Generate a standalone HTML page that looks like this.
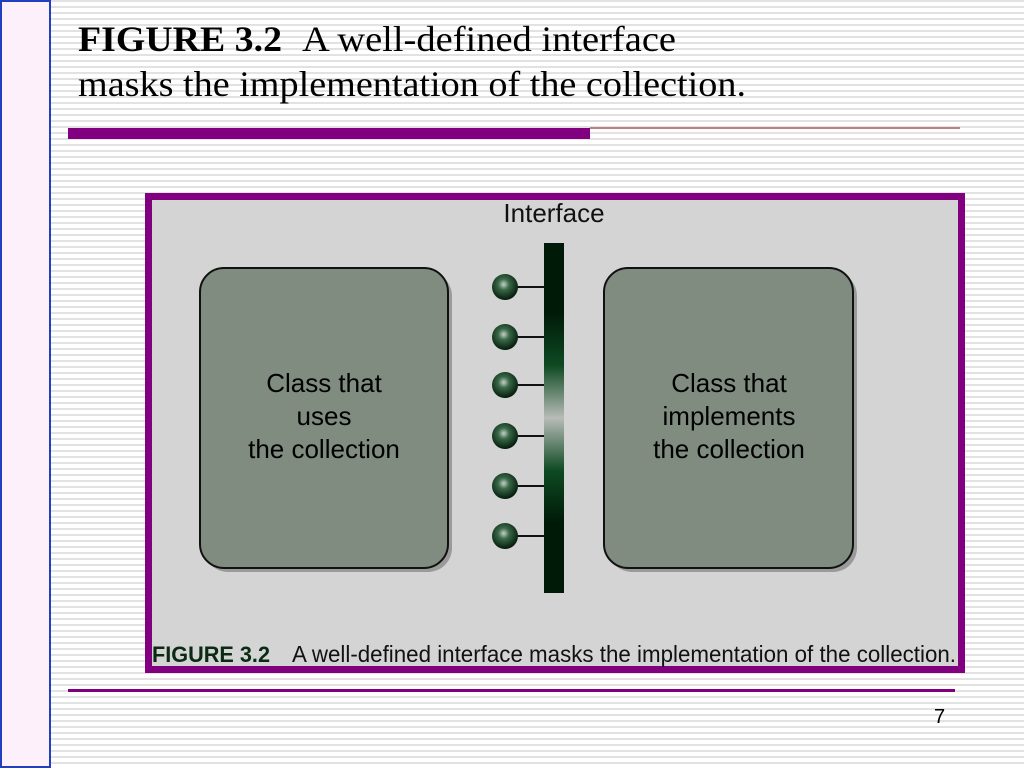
<!DOCTYPE html>
<html><head><style>
html,body{margin:0;padding:0;width:1024px;height:768px;overflow:hidden;background:#fff}
</style></head><body>
<svg width="1024" height="768" viewBox="0 0 1024 768" xmlns="http://www.w3.org/2000/svg">
<defs>
<pattern id="st" width="8" height="6" patternUnits="userSpaceOnUse">
<rect width="8" height="6" fill="#fff"/><rect y="0" width="8" height="2" fill="#e2e2e2"/>
</pattern>
<radialGradient id="ball" cx="45%" cy="40%" r="60%">
<stop offset="0" stop-color="#c8d0c8"/><stop offset="0.35" stop-color="#3a6a48"/><stop offset="1" stop-color="#041a0c"/>
</radialGradient>
<linearGradient id="bar" x1="0" y1="0" x2="0" y2="1">
<stop offset="0" stop-color="#001a08"/><stop offset="0.2" stop-color="#001a08"/><stop offset="0.35" stop-color="#0e4a22"/><stop offset="0.5" stop-color="#b8bcb8"/><stop offset="0.65" stop-color="#0e4a22"/><stop offset="0.8" stop-color="#001a08"/><stop offset="1" stop-color="#001a08"/>
</linearGradient>
</defs>
<rect width="1024" height="768" fill="url(#st)"/>
<rect x="1" y="1" width="49" height="766" fill="#fdf0fb" stroke="#2040c0" stroke-width="2"/>
<text x="78" y="51" font-family="Liberation Serif, serif" font-size="36" font-weight="bold" fill="#000" textLength="204" lengthAdjust="spacingAndGlyphs">FIGURE 3.2</text>
<text x="302" y="51" font-family="Liberation Serif, serif" font-size="36" fill="#000" textLength="374" lengthAdjust="spacingAndGlyphs">A well-defined interface</text>
<text x="78" y="96" font-family="Liberation Serif, serif" font-size="36" fill="#000" textLength="668" lengthAdjust="spacingAndGlyphs">masks the implementation of the collection.</text>
<rect x="68" y="128" width="522" height="11" fill="#800080"/>
<rect x="590" y="127" width="370" height="2" fill="#c08080"/>
<rect x="145" y="193" width="820" height="480" fill="#800080"/>
<rect x="152" y="200" width="806" height="466" fill="#d4d4d4"/>
<text x="554" y="222" text-anchor="middle" font-family="Liberation Sans, sans-serif" font-size="26" fill="#111">Interface</text>
<rect x="204" y="272" width="248" height="300" rx="24" fill="#9a9a9a"/>
<rect x="200" y="268" width="248" height="300" rx="24" fill="#7f8c7f" stroke="#111" stroke-width="2"/>
<rect x="608" y="272" width="249" height="300" rx="24" fill="#9a9a9a"/>
<rect x="604" y="268" width="249" height="300" rx="24" fill="#7f8c7f" stroke="#111" stroke-width="2"/>
<g font-family="Liberation Sans, sans-serif" font-size="26" fill="#000" text-anchor="middle">
<text x="324" y="392">Class that</text><text x="324" y="425">uses</text><text x="324" y="458">the collection</text>
<text x="729" y="392">Class that</text><text x="729" y="425">implements</text><text x="729" y="458">the collection</text>
</g>
<rect x="544" y="243" width="20" height="350" fill="url(#bar)"/>
<g stroke="#111" stroke-width="2">
<line x1="505" y1="287" x2="544" y2="287"/><line x1="505" y1="337" x2="544" y2="337"/><line x1="505" y1="385" x2="544" y2="385"/>
<line x1="505" y1="436" x2="544" y2="436"/><line x1="505" y1="486" x2="544" y2="486"/><line x1="505" y1="536" x2="544" y2="536"/>
</g>
<g fill="url(#ball)">
<circle cx="505" cy="287" r="13"/><circle cx="505" cy="337" r="13"/><circle cx="505" cy="385" r="13"/>
<circle cx="505" cy="436" r="13"/><circle cx="505" cy="486" r="13"/><circle cx="505" cy="536" r="13"/>
</g>
<text x="152" y="662" font-family="Liberation Sans, sans-serif" font-size="22" font-weight="bold" fill="#0a2a14" textLength="118" lengthAdjust="spacingAndGlyphs">FIGURE 3.2</text>
<text x="292" y="662" font-family="Liberation Sans, sans-serif" font-size="23" fill="#111" textLength="664" lengthAdjust="spacingAndGlyphs">A well-defined interface masks the implementation of the collection.</text>
<rect x="68" y="689" width="887" height="3" fill="#800080"/>
<text x="934" y="723" font-family="Liberation Sans, sans-serif" font-size="20" fill="#000">7</text>
</svg>
</body></html>
